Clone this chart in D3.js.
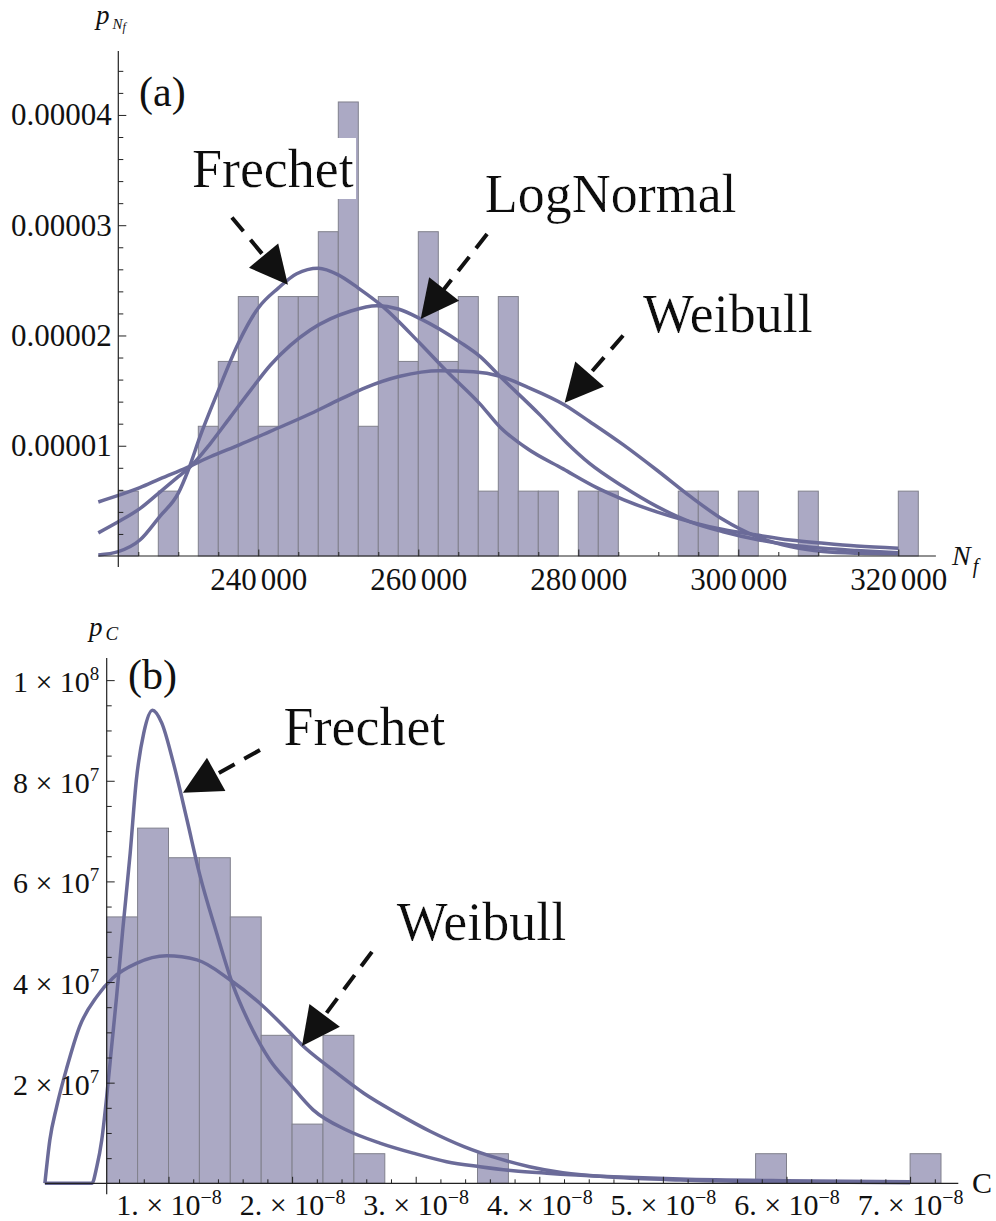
<!DOCTYPE html>
<html>
<head>
<meta charset="utf-8">
<script src="https://cdn.jsdelivr.net/npm/d3@7"></script>
</head>
<body style="margin:0">
<svg id="chart" width="996" height="1221" font-family="Liberation Serif" style="font-family: 'Liberation Serif'"></svg>
<script>
// ---------------- data, panel (a): fatigue life Nf ----------------
const nfSamples = 68;
const nfBinStart = 222500;
const nfBinWidth = 2500;
// counts per bin (1 sample = 0.588e-5)
const nfCounts = [1, 0, 1, 0, 2, 3, 4, 2, 4, 4, 5, 7, 2, 4, 3, 5, 3, 4, 1, 4,
                  1, 1, 0, 1, 1, 0, 0, 0, 1, 1, 0, 1, 0, 0, 1, 0, 0, 0, 0, 1];
const nfXTicks = [240000, 260000, 280000, 300000, 320000];
const nfXTickLabels = [["240", "000"], ["260", "000"], ["280", "000"], ["300", "000"], ["320", "000"]];
const nfYTicks = [1, 2, 3, 4];               // units of 1e-5
const nfYTickLabels = ["0.00001", "0.00002", "0.00003", "0.00004"];
// fitted pdfs, [Nf, p * 1e5]
const nfFrechet = [[220000, 0.01], [222500, 0.04], [225200, 0.145], [227700, 0.36], [230000, 0.57],
  [231250, 0.78], [232700, 1.08], [235000, 1.50], [237500, 1.93], [240000, 2.25], [242500, 2.43],
  [244800, 2.56], [247500, 2.61], [250000, 2.55], [252500, 2.43], [255600, 2.26], [260200, 1.93],
  [263500, 1.68], [267700, 1.38], [270200, 1.17], [273700, 0.97], [278100, 0.79], [282300, 0.62],
  [285700, 0.51], [289800, 0.40], [294000, 0.31], [298100, 0.24], [302300, 0.19], [306500, 0.145],
  [310700, 0.115], [314800, 0.09], [320000, 0.07]];
const nfLogNormal = [[220000, 0.21], [222500, 0.31], [225200, 0.43], [227700, 0.58], [230000, 0.72],
  [231500, 0.81], [234000, 1.02], [236500, 1.26], [239000, 1.50], [241500, 1.73], [244000, 1.91],
  [246500, 2.05], [249000, 2.15], [251500, 2.22], [254800, 2.27], [257500, 2.24], [260300, 2.15],
  [265200, 1.94], [267700, 1.81], [270200, 1.63], [275200, 1.28], [278500, 1.03], [281400, 0.84],
  [285600, 0.63], [289800, 0.45], [294000, 0.31], [298100, 0.22], [302300, 0.15], [306500, 0.10],
  [310600, 0.07], [314800, 0.05], [320000, 0.03]];
const nfWeibull = [[220000, 0.49], [222500, 0.55], [225200, 0.62], [227700, 0.70], [231000, 0.80],
  [234000, 0.90], [237700, 1.01], [241500, 1.13], [246500, 1.29], [250200, 1.42], [253500, 1.53],
  [257700, 1.63], [262700, 1.68], [266900, 1.67], [270200, 1.63], [273700, 1.53], [278300, 1.37],
  [281400, 1.22], [285600, 1.01], [289800, 0.78], [294000, 0.54], [298100, 0.33], [302300, 0.175],
  [306500, 0.085], [310600, 0.04], [314800, 0.025], [320000, 0.02]];
// annotations: label anchor [x, y], arrow from [x, y] to tip [x, y]
const nfNotes = [
  { text: "Frechet",   at: [231700, 3.35], from: [236700, 3.07], to: [243700, 2.46] },
  { text: "LogNormal", at: [268300, 3.12], from: [268600, 2.92], to: [260300, 2.15] },
  { text: "Weibull",   at: [288100, 2.03], from: [285600, 2.00], to: [278300, 1.39] }
];

// ---------------- data, panel (b): constant C ----------------
const cSamples = 68;
const cBinStart = 0.5;                       // units of 1e-8
const cBinWidth = 0.25;
const cCounts = [9, 12, 11, 11, 9, 5, 2, 5, 1, 0, 0, 0, 1, 0, 0, 0, 0, 0, 0, 0, 0, 1, 0, 0, 0, 0, 1];
const cXTicks = [1, 2, 3, 4, 5, 6, 7];
const cXTickLabels = ["1.", "2.", "3.", "4.", "5.", "6.", "7."];
const cYTicks = [2, 4, 6, 8, 10];            // units of 1e7
const cYTickLabels = [["2", "7"], ["4", "7"], ["6", "7"], ["8", "7"], ["1", "8"]];
// fitted pdfs, [C * 1e8, p * 1e-7]
const cFrechet = [[0.0, 0], [0.38, 0], [0.42, 0.33], [0.46, 0.86], [0.50, 1.72], [0.54, 2.72],
  [0.58, 3.71], [0.63, 5.04], [0.69, 6.56], [0.74, 8.02], [0.80, 8.95], [0.87, 9.40], [0.945, 9.15],
  [1.04, 8.35], [1.15, 7.22], [1.25, 6.16], [1.39, 4.97], [1.52, 3.95], [1.66, 3.15], [1.82, 2.45],
  [1.98, 1.98], [2.17, 1.46], [2.44, 1.06], [2.71, 0.80], [2.98, 0.60], [3.25, 0.43], [3.52, 0.33],
  [3.79, 0.25], [4.06, 0.20], [4.60, 0.13], [5.14, 0.085], [6.0, 0.05], [7.0, 0.03]];
const cWeibull = [[0.0, 0.0], [0.04, 0.86], [0.095, 1.52], [0.18, 2.32], [0.28, 3.11], [0.42, 3.71],
  [0.55, 4.08], [0.74, 4.37], [0.985, 4.52], [1.23, 4.44], [1.50, 4.04], [1.77, 3.51], [1.98, 3.0],
  [2.08, 2.75], [2.31, 2.29], [2.58, 1.79], [2.85, 1.39], [3.12, 1.03], [3.39, 0.73], [3.66, 0.50],
  [3.92, 0.33], [4.19, 0.21], [4.60, 0.12], [5.14, 0.066], [6.0, 0.03], [7.0, 0.01]];
const cNotes = [
  { text: "Frechet", at: [1.93, 8.71], from: [1.74, 8.61], to: [1.117, 7.76] },
  { text: "Weibull", at: [2.846, 4.84], from: [2.646, 4.60], to: [2.08, 2.73] }
];

// ---------------- drawing ----------------
const svg = d3.select("#chart");
const textColor = "#111";
const curveColor = "#6b6b99";
const barFill = "#aba9c4";
const barStroke = "#80808c";
const axisColor = "#222";

// white box behind the fit labels, sized by the text's own bounding box
const bgFilter = svg.append("defs").append("filter")
    .attr("id", "labelbg")
    .attr("x", -0.01).attr("y", 0).attr("width", 1.02).attr("height", 1);
bgFilter.append("feFlood").attr("flood-color", "#fff");
bgFilter.append("feComposite").attr("in", "SourceGraphic").attr("operator", "over");

function serifText(sel, size) {
    return sel.attr("font-family", "Liberation Serif")
        .style("font-family", d => '"Liberation Serif"')
        .attr("font-size", size)
        .attr("fill", textColor);
}

function drawPanel(p) {
    const g = svg.append("g");
    const x = d3.scaleLinear().domain(p.xDomain).range(p.xRange);
    const y = d3.scaleLinear().domain(p.yDomain).range(p.yRange);
    const y0 = y(0);
    const xAxisX = x(p.yAxisAt);

    // Histogram bars
    const bins = p.counts.map((c, i) => ({ c: c, i: i })).filter(d => d.c > 0);
    g.selectAll("rect.bar").data(bins).enter().append("rect")
        .attr("x", d => x(p.binStart + d.i * p.binWidth))
        .attr("width", d => x(p.binStart + (d.i + 1) * p.binWidth) - x(p.binStart + d.i * p.binWidth))
        .attr("y", d => y(p.density(d.c)))
        .attr("height", d => y0 - y(p.density(d.c)))
        .attr("fill", barFill)
        .attr("stroke", barStroke)
        .attr("stroke-width", 1);

    // Fitted curves
    const line = d3.line()
        .x(d => x(d[0]))
        .y(d => y(d[1]))
        .curve(d3.curveMonotoneX);
    p.curves.forEach(c => {
        g.append("path")
            .attr("d", line(c))
            .attr("fill", "none")
            .attr("stroke", curveColor)
            .attr("stroke-width", 3.5)
            .attr("stroke-linejoin", "round");
    });

    // Annotations (label with white box, dashed arrow)
    g.selectAll("text.note").data(p.notes).enter().append("text")
        .attr("class", "note")
        .call(s => serifText(s, 54))
        .attr("x", d => x(d.at[0]))
        .attr("y", d => y(d.at[1]))
        .attr("filter", "url(#labelbg)")
        .text(d => d.text);

    p.notes.forEach(n => {
        const sx = x(n.from[0]), sy = y(n.from[1]);
        const tx = x(n.to[0]), ty = y(n.to[1]);
        const len = Math.hypot(tx - sx, ty - sy);
        const ux = (tx - sx) / len, uy = (ty - sy) / len;
        const headLen = 38, headHalf = 19;
        const bx = tx - ux * headLen, by = ty - uy * headLen;
        g.append("line")
            .attr("x1", sx).attr("y1", sy)
            .attr("x2", bx + ux * 4).attr("y2", by + uy * 4)
            .attr("stroke", "#111")
            .attr("stroke-width", 4)
            .attr("stroke-dasharray", "18,11");
        g.append("path")
            .attr("d", `M${tx},${ty}L${bx - uy * headHalf},${by + ux * headHalf}L${bx + uy * headHalf},${by - ux * headHalf}Z`)
            .attr("fill", "#111");
    });

    // Axis lines
    g.append("line")
        .attr("x1", p.xRange[0]).attr("x2", p.xRange[1])
        .attr("y1", y0).attr("y2", y0)
        .attr("stroke", axisColor).attr("stroke-width", 1.2);
    g.append("line")
        .attr("x1", xAxisX).attr("x2", xAxisX)
        .attr("y1", p.yRange[1]).attr("y2", y0 + 11)
        .attr("stroke", axisColor).attr("stroke-width", 1.2);

    // x ticks
    g.append("g")
        .attr("transform", `translate(0,${y0})`)
        .call(d3.axisBottom(x).tickValues(p.xMinor).tickSize(-4).tickFormat(""))
        .call(s => s.select(".domain").remove())
        .attr("color", axisColor);
    const xg = g.append("g")
        .attr("transform", `translate(0,${y0})`)
        .call(d3.axisBottom(x).tickValues(p.xTicks).tickSize(-6.5).tickFormat(""))
        .call(s => s.select(".domain").remove())
        .attr("color", axisColor)
        .attr("font-family", "Liberation Serif");
    xg.selectAll(".tick text").each(function (d, i) {
        const t = serifText(d3.select(this), p.xFont)
            .attr("dy", null).attr("y", p.xBase).attr("text-anchor", "middle");
        p.xLabel(t, i);
    });

    // y ticks
    g.append("g")
        .attr("transform", `translate(${xAxisX},0)`)
        .call(d3.axisLeft(y).tickValues(p.yMinor).tickSize(-5).tickFormat(""))
        .call(s => s.select(".domain").remove())
        .attr("color", axisColor);
    const yg = g.append("g")
        .attr("transform", `translate(${xAxisX},0)`)
        .call(d3.axisLeft(y).tickValues(p.yTicks).tickSize(-8).tickPadding(p.yPad).tickFormat(""))
        .call(s => s.select(".domain").remove())
        .attr("color", axisColor)
        .attr("font-family", "Liberation Serif");
    yg.selectAll(".tick text").each(function (d, i) {
        const t = serifText(d3.select(this), p.yFont)
            .attr("dy", null).attr("y", p.yBase).attr("text-anchor", "end");
        p.yLabel(t, i);
    });
}

drawPanel({
    counts: nfCounts, binStart: nfBinStart, binWidth: nfBinWidth,
    density: c => c / (nfSamples * nfBinWidth) / 1e-5,
    xDomain: [220000, 324700], xRange: [98.3, 935.9],
    yDomain: [0, 4.58], yRange: [556, 51],
    yAxisAt: 222500,
    curves: [nfFrechet, nfLogNormal, nfWeibull],
    notes: nfNotes,
    xTicks: nfXTicks, xBase: 34, xFont: 31,
    xMinor: d3.range(225000, 320001, 5000).filter(v => v % 20000 !== 0),
    xLabel: (t, i) => {
        t.append("tspan").text(nfXTickLabels[i][0]);
        t.append("tspan").attr("dx", 4).text(nfXTickLabels[i][1]);
    },
    yTicks: nfYTicks,
    yMinor: d3.range(0.2, 4.5, 0.2).filter(v => Math.abs(v - Math.round(v)) > 0.01),
    yPad: 6.5, yFont: 31, yBase: 10,
    yLabel: (t, i) => t.text(nfYTickLabels[i])
});

drawPanel({
    counts: cCounts, binStart: cBinStart, binWidth: cBinWidth,
    density: c => c / (cSamples * cBinWidth) * 10,
    xDomain: [0, 7.39], xRange: [44.9, 958.3],
    yDomain: [0, 10.44], yRange: [1183.3, 658],
    yAxisAt: 0.5,
    curves: [cFrechet, cWeibull],
    notes: cNotes,
    xTicks: cXTicks, xBase: 32, xFont: 30,
    xMinor: d3.range(0.6, 7.25, 0.2).filter(v => Math.abs(v - Math.round(v)) > 0.01),
    xLabel: (t, i) => {
        t.append("tspan").text(cXTickLabels[i] + " \u00d7 10");
        t.append("tspan").attr("dy", -11).attr("font-size", 20).text("\u22128");
    },
    yTicks: cYTicks,
    yMinor: d3.range(0.5, 10.01, 0.5).filter(v => Math.abs(v / 2 - Math.round(v / 2)) > 0.01),
    yPad: 7.4, yFont: 30, yBase: 11.5,
    yLabel: (t, i) => {
        t.append("tspan").text(cYTickLabels[i][0] + " \u00d7 10");
        t.append("tspan").attr("dy", -12).attr("font-size", 19).text(cYTickLabels[i][1]);
    }
});

// Panel letters and axis names
serifText(svg.append("text"), 42).attr("x", 139).attr("y", 106).text("(a)");
serifText(svg.append("text"), 42).attr("x", 128).attr("y", 689).text("(b)");

const pN = serifText(svg.append("text"), 27).attr("x", 96).attr("y", 24).attr("font-style", "italic");
pN.append("tspan").text("p");
pN.append("tspan").attr("dx", 3).attr("dy", 5).attr("font-size", 15).text("N");
pN.append("tspan").attr("dy", 2).attr("font-size", 12).text("f");

const nf = serifText(svg.append("text"), 28).attr("x", 952).attr("y", 565).attr("font-style", "italic");
nf.append("tspan").text("N");
nf.append("tspan").attr("dx", 2).attr("dy", 8).attr("font-size", 20).text("f");

const pC = serifText(svg.append("text"), 27).attr("x", 89).attr("y", 636).attr("font-style", "italic");
pC.append("tspan").text("p");
pC.append("tspan").attr("dx", 3).attr("dy", 4).attr("font-size", 19).text("C");

serifText(svg.append("text"), 30).attr("x", 972).attr("y", 1193).text("C");
</script>
</body>
</html>
